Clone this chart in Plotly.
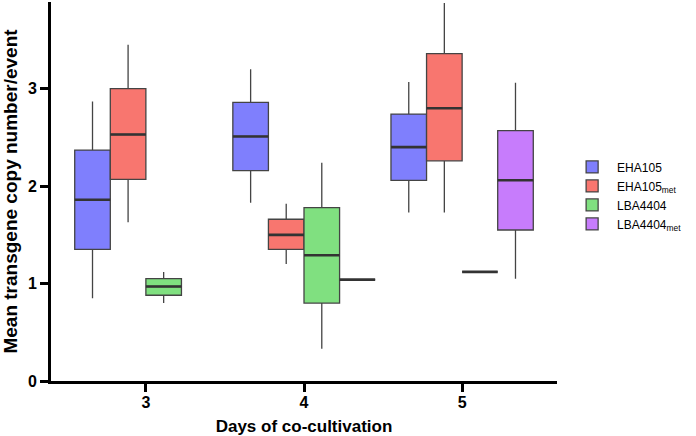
import plotly.graph_objects as go

# days of co-cultivation (x categories)
DAYS = [3, 4, 5]

# box stats: lower whisker, q1, median, q3, upper whisker
eha105_days = [3, 4, 5]
eha105_low = [0.85, 1.83, 1.73]
eha105_q1 = [1.35, 2.16, 2.06]
eha105_med = [1.86, 2.51, 2.40]
eha105_q3 = [2.37, 2.86, 2.74]
eha105_high = [2.87, 3.20, 3.07]

eha105met_days = [3, 4, 5]
eha105met_low = [1.63, 1.20, 1.73]
eha105met_q1 = [2.07, 1.35, 2.26]
eha105met_med = [2.53, 1.50, 2.80]
eha105met_q3 = [3.00, 1.66, 3.36]
eha105met_high = [3.45, 1.82, 3.88]

lba4404_days = [3, 4, 5]
lba4404_low = [0.80, 0.33, 1.12]
lba4404_q1 = [0.88, 0.80, 1.12]
lba4404_med = [0.97, 1.29, 1.12]
lba4404_q3 = [1.05, 1.78, 1.12]
lba4404_high = [1.12, 2.24, 1.12]

lba4404met_days = [4, 5]
lba4404met_low = [1.04, 1.05]
lba4404met_q1 = [1.04, 1.55]
lba4404met_med = [1.04, 2.06]
lba4404met_q3 = [1.04, 2.57]
lba4404met_high = [1.04, 3.06]

series = [
    ("EHA105", eha105_days, eha105_low, eha105_q1, eha105_med, eha105_q3, eha105_high),
    ("EHA105<sub>met</sub>", eha105met_days, eha105met_low, eha105met_q1, eha105met_med, eha105met_q3, eha105met_high),
    ("LBA4404", lba4404_days, lba4404_low, lba4404_q1, lba4404_med, lba4404_q3, lba4404_high),
    ("LBA4404<sub>met</sub>", lba4404met_days, lba4404met_low, lba4404met_q1, lba4404met_med, lba4404met_q3, lba4404met_high),
]

COLORS = ["#7F7FFD", "#F8766F", "#80E080", "#C77CFC"]
OFFSETS = [-0.3375, -0.1125, 0.1125, 0.3375]
BOX_W = 0.225
FONT = "Arial, Liberation Sans, sans-serif"

fig = go.Figure()
med_x, med_y = [], []
for i, (name, days, lo, q1, med, q3, hi) in enumerate(series):
    xs = [d + OFFSETS[i] for d in days]
    fig.add_trace(go.Box(
        name=name, x=xs,
        lowerfence=lo, q1=q1, median=med, q3=q3, upperfence=hi,
        width=BOX_W, whiskerwidth=0, boxpoints=False,
        fillcolor=COLORS[i],
        line=dict(color="#444444", width=1.3),
    ))
    for x, m in zip(xs, med):
        med_x += [x - BOX_W / 2, x + BOX_W / 2, None]
        med_y += [m, m, None]

# thicker median bars
fig.add_trace(go.Scatter(x=med_x, y=med_y, mode="lines",
                         line=dict(color="#333333", width=2.6),
                         showlegend=False, hoverinfo="skip"))

axis_style = dict(showline=True, linewidth=3, linecolor="black",
                  ticks="outside", ticklen=8, tickwidth=3, tickcolor="black",
                  showgrid=False, zeroline=False, automargin=False,
                  tickfont=dict(family=FONT, size=16, color="black", weight="bold"))

fig.update_layout(
    width=696, height=436,
    margin=dict(l=51, r=139, t=2, b=55),
    paper_bgcolor="white", plot_bgcolor="white",
    boxmode="overlay",
    legend=dict(x=1.02, y=0.603, xanchor="left", yanchor="top", itemwidth=40,
                font=dict(family=FONT, size=12, color="black")),
)
fig.update_xaxes(range=[2.4, 5.6], tickvals=DAYS, ticktext=[str(d) for d in DAYS],
                 ticklabelstandoff=-3,
                 title=dict(text="Days of co-cultivation", standoff=10,
                            font=dict(family=FONT, size=17, color="black", weight="bold")),
                 **axis_style)
fig.update_yaxes(range=[0, 3.89], tickvals=[0, 1, 2, 3],
                 title=dict(text="Mean transgene copy number/event", standoff=8,
                            font=dict(family=FONT, size=19, color="black", weight="bold")),
                 **axis_style)

# the page's default 8px body margin would push the figure off the window
fig.write_html("out.html", config={"displayModeBar": False},
               post_script="document.body.style.margin='0';")
